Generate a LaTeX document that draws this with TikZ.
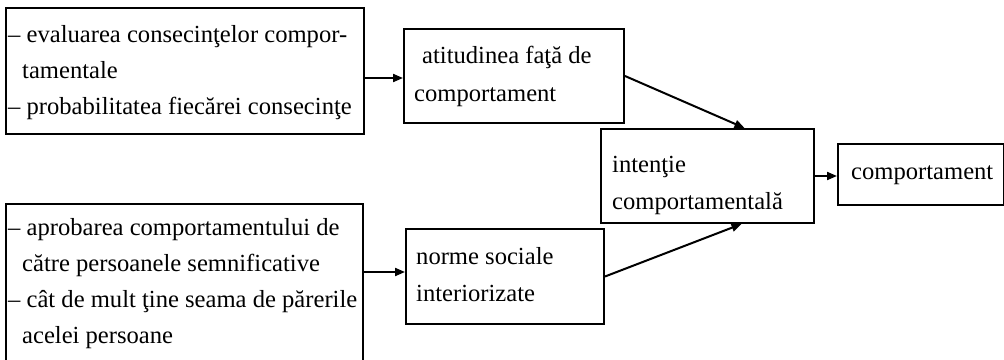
\documentclass[tikz,border=0pt]{standalone}
\usepackage{fontspec}
\setmainfont{Liberation Serif}
\usetikzlibrary{arrows.meta}
\begin{document}
\begin{tikzpicture}[x=1pt,y=-1pt,
  box/.style={draw, line width=2pt, inner sep=0pt, anchor=north west},
  txt/.style={inner sep=0pt, anchor=north west, align=left, font=\fontsize{24.6pt}{36pt}\selectfont},
  txtb/.style={txt, font=\fontsize{24.6pt}{37.5pt}\selectfont},
  arr/.style={line width=2pt, -{Triangle[length=10pt,width=8pt]}}]
\useasboundingbox (0,0) rectangle (1004,359);
% boxes
\node[box, minimum width=358pt, minimum height=126pt] (A) at (5,7) {};
\node[box, minimum width=220pt, minimum height=94pt] (B) at (403,28) {};
\node[box, minimum width=213pt, minimum height=94pt] (C) at (600,128) {};
\node[box, minimum width=166pt, minimum height=61pt] (D) at (837,143) {};
\node[box, minimum width=357pt, minimum height=160pt] (E) at (5,203) {};
\node[box, minimum width=198pt, minimum height=95pt] (F) at (405,228) {};
% texts
\node[txt] (At) at (8,25) {– evaluarea consecinţelor compor-\\
\hspace*{14pt}tamentale\\
– probabilitatea fiecărei consecinţe};
\node[txtb] (Bt) at (414,46) {\hspace*{8pt}atitudinea faţă de\\comportament};
\node[txtb] (Ct) at (612,156) {intenţie\\comportamentală};
\node[txt] (Dt) at (851,165) {comportament};
\node[txt] (Et) at (8,218) {– aprobarea comportamentului de\\
\hspace*{14pt}către persoanele semnificative\\
– cât de mult ţine seama de părerile\\
\hspace*{14pt}acelei persoane};
\node[txtb] (Ft) at (416,247) {norme sociale\\interiorizate};
% connectors
\draw[arr] ([yshift=-7pt]A.east) -- ([yshift=-7pt]A.east -| B.west);
\draw[arr] (B.east) -- ([xshift=37pt]C.north);
\draw[arr] (F.east) -- ([xshift=34pt]C.south);
\draw[arr] (C.east) -- (C.east -| D.west);
\draw[arr] ([yshift=12pt]E.east) -- ([yshift=12pt]E.east -| F.west);
\end{tikzpicture}
\end{document}
